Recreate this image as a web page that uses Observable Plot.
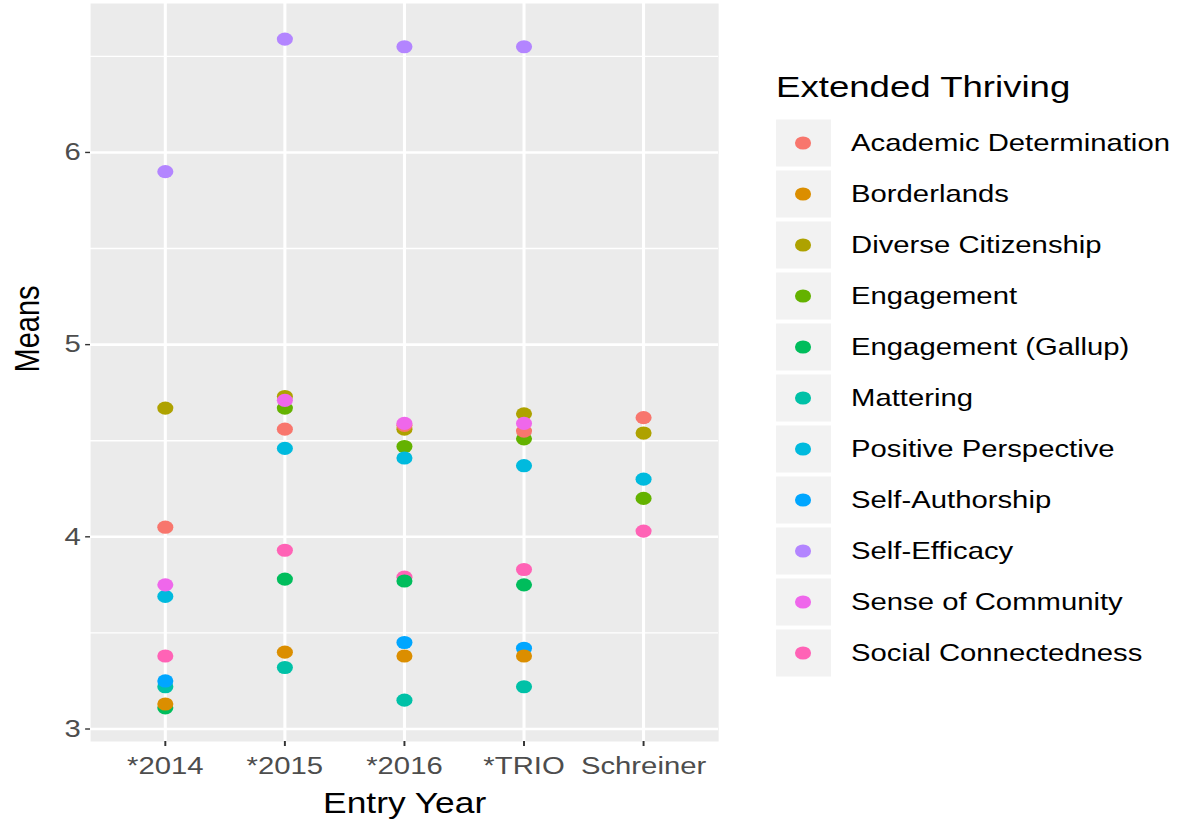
<!DOCTYPE html>
<html>
<head>
<meta charset="utf-8">
<script src="https://cdn.jsdelivr.net/npm/d3@7"></script>
<script src="https://cdn.jsdelivr.net/npm/@observablehq/plot@0.6"></script>
<style>
  html, body { margin: 0; padding: 0; background: #ffffff; }
  body { font-family: "Liberation Sans", Arial, Helvetica, sans-serif; }
  #wrap { position: relative; height: 823px; transform-origin: 0 0; }
  #wrap svg { position: absolute; left: 0; top: 0; }
</style>
</head>
<body>
<div id="wrap"></div>
<script>
// ---- data ----
const entryYears = ["*2014", "*2015", "*2016", "*TRIO", "Schreiner"];
const constructs = [
  "Academic Determination", "Borderlands", "Diverse Citizenship", "Engagement",
  "Engagement (Gallup)", "Mattering", "Positive Perspective", "Self-Authorship",
  "Self-Efficacy", "Sense of Community", "Social Connectedness"
];
const constructColors = [
  "#F8766D", "#DB8E00", "#AEA200", "#64B200", "#00BD5C", "#00C1A7",
  "#00BADE", "#00A6FF", "#B385FF", "#EF67EB", "#FF63B6"
];
// means per entry year (*2014, *2015, *2016, *TRIO, Schreiner)
const academicDetermination = [4.05, 4.56, 4.58, 4.55, 4.62];
const borderlands           = [3.13, 3.40, 3.38, 3.38, null];
const diverseCitizenship    = [4.67, 4.73, 4.56, 4.64, 4.54];
const engagement            = [null, 4.67, 4.47, 4.51, 4.20];
const engagementGallup      = [3.11, 3.78, 3.77, 3.75, null];
const mattering             = [3.22, 3.32, 3.15, 3.22, null];
const positivePerspective   = [3.69, 4.46, 4.41, 4.37, 4.30];
const selfAuthorship        = [3.25, null, 3.45, 3.42, null];
const selfEfficacy          = [5.90, 6.59, 6.55, 6.55, null];
const senseOfCommunity      = [3.75, 4.71, 4.59, 4.59, null];
const socialConnectedness   = [3.38, 3.93, 3.79, 3.83, 4.03];
const majorTicks = [3, 4, 5, 6];
const minorTicks = [3.5, 4.5, 5.5, 6.5];

const seriesByName = {
  "Academic Determination": academicDetermination,
  "Borderlands": borderlands,
  "Diverse Citizenship": diverseCitizenship,
  "Engagement": engagement,
  "Engagement (Gallup)": engagementGallup,
  "Mattering": mattering,
  "Positive Perspective": positivePerspective,
  "Self-Authorship": selfAuthorship,
  "Self-Efficacy": selfEfficacy,
  "Sense of Community": senseOfCommunity,
  "Social Connectedness": socialConnectedness
};
// drawing order (later on top)
const drawOrder = [
  "Social Connectedness", "Diverse Citizenship", "Engagement", "Engagement (Gallup)",
  "Mattering", "Positive Perspective", "Academic Determination", "Sense of Community",
  "Self-Authorship", "Borderlands", "Self-Efficacy"
];
const rows = [];
for (const name of drawOrder) {
  seriesByName[name].forEach((v, i) => {
    if (v != null) rows.push({year: entryYears[i], construct: name, mean: v});
  });
}

// ---- layout ----
const S = 1.22;                 // horizontal stretch of the reference
const W = Math.round(1181 / S);
const FONT = '"Liberation Sans", Arial, Helvetica, sans-serif';
const wrap = document.getElementById("wrap");
wrap.style.width = W + "px";
wrap.style.transform = `scaleX(${1181 / W})`;

const pLeft = 90 / S, pRight = 718 / S;

const chart = Plot.plot({
  width: W,
  height: 823,
  marginTop: 3,
  marginBottom: 82,
  marginLeft: pLeft,
  marginRight: W - pRight,
  style: {fontFamily: FONT, fontSize: "24px", background: "transparent", color: "#4D4D4D", overflow: "visible"},
  x: {type: "point", domain: entryYears, padding: 0.6, label: null, axis: null},
  y: {domain: [2.935, 6.775], label: null, axis: null},
  color: {domain: constructs, range: constructColors},
  marks: [
    Plot.frame({fill: "#EBEBEB", stroke: "none"}),
    Plot.ruleY(minorTicks, {stroke: "white", strokeWidth: 1.4}),
    Plot.ruleY(majorTicks, {stroke: "white", strokeWidth: 2.6}),
    Plot.ruleX(entryYears, {stroke: "white", strokeWidth: 2.5}),
    Plot.dot(rows, {x: "year", y: "mean", fill: "construct", r: 6.6, stroke: "none"}),
    Plot.axisY({ticks: majorTicks, tickFormat: d => String(d), tickSize: 4, tickPadding: 4,
                stroke: "#333333", fill: "#4D4D4D", strokeWidth: 1.4, label: null}),
    Plot.axisX({tickSize: 5, tickPadding: 10, stroke: "#333333", fill: "#4D4D4D",
                strokeWidth: 1.6, label: null}),
    Plot.text(["Entry Year"], {text: d => d, frameAnchor: "bottom", dy: 71, fontSize: 29, fill: "#000000"}),
    Plot.text(["Means"], {text: d => d, frameAnchor: "left", dx: 27 / S - pLeft, rotate: -90, fontSize: 29, fill: "#000000"})
  ]
});
wrap.appendChild(chart);

// ---- legend (ggplot style) ----
const leg = d3.select(wrap).append("svg")
  .attr("width", W).attr("height", 823)
  .style("font-family", FONT)
  .style("pointer-events", "none");
leg.append("text")
  .attr("x", 776 / S).attr("y", 97)
  .attr("font-size", 30).attr("fill", "#000000")
  .text("Extended Thriving");
const colorOf = d3.scaleOrdinal(constructs, constructColors);
const item = leg.selectAll("g.item").data(constructs).join("g")
  .attr("class", "item")
  .attr("transform", (d, i) => `translate(0, ${143 + 51 * i})`);
item.append("rect")
  .attr("x", 776 / S).attr("y", -23.5)
  .attr("width", 55 / S).attr("height", 47)
  .attr("fill", "#F2F2F2");
item.append("circle")
  .attr("cx", 803 / S).attr("cy", 0).attr("r", 6.6)
  .attr("fill", d => colorOf(d));
item.append("text")
  .attr("x", 851 / S).attr("y", 0).attr("dy", "0.35em")
  .attr("font-size", 24).attr("fill", "#000000")
  .text(d => d);
</script>
</body>
</html>
